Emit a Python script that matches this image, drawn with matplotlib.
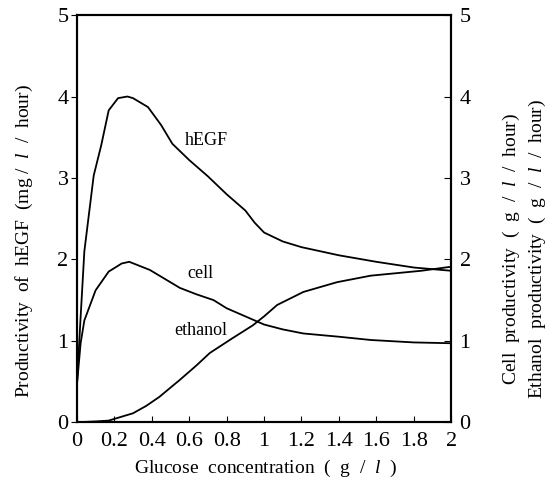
import matplotlib
matplotlib.use('Agg')
import matplotlib.pyplot as plt

plt.rcParams['font.family'] = ['Liberation Serif', 'DejaVu Serif']
plt.rcParams['mathtext.fontset'] = 'custom'
plt.rcParams['mathtext.rm'] = 'Liberation Serif'
plt.rcParams['mathtext.it'] = 'Liberation Serif:italic'

# hEGF productivity (mg/l/hour), left axis
hegf_x = [0, 0.02, 0.04, 0.09, 0.13, 0.17, 0.22, 0.27, 0.30, 0.38, 0.45, 0.51, 0.60,
          0.70, 0.80, 0.90, 0.95, 1.0, 1.1, 1.2, 1.4, 1.6, 1.8, 2.0]
hegf_y = [0.45, 1.29, 2.1, 3.03, 3.4, 3.83, 3.98, 4.0, 3.98, 3.87, 3.65, 3.42, 3.22,
          3.02, 2.8, 2.6, 2.45, 2.33, 2.22, 2.15, 2.05, 1.97, 1.9, 1.86]

# cell productivity (g/l/hour), right axis
cell_x = [0, 0.02, 0.04, 0.10, 0.17, 0.24, 0.28, 0.39, 0.47, 0.55, 0.64, 0.73, 0.80,
          0.90, 1.0, 1.1, 1.21, 1.4, 1.57, 1.8, 2.0]
cell_y = [0.45, 0.97, 1.25, 1.62, 1.85, 1.95, 1.97, 1.87, 1.76, 1.65, 1.57, 1.5, 1.4,
          1.3, 1.2, 1.14, 1.09, 1.05, 1.01, 0.98, 0.97]

# ethanol productivity (g/l/hour), right axis
eth_x = [0, 0.1, 0.17, 0.3, 0.37, 0.44, 0.55, 0.64, 0.71, 0.83, 0.94, 1.0, 1.07,
         1.21, 1.39, 1.57, 1.84, 2.0]
eth_y = [0, 0.01, 0.02, 0.11, 0.2, 0.31, 0.52, 0.7, 0.85, 1.03, 1.19, 1.3, 1.44,
         1.6, 1.72, 1.8, 1.86, 1.91]

xticks = [0, 0.2, 0.4, 0.6, 0.8, 1, 1.2, 1.4, 1.6, 1.8, 2]
xtick_labels = ['0', '0.2', '0.4', '0.6', '0.8', '1', '1.2', '1.4', '1.6', '1.8', '2']
yticks = [0, 1, 2, 3, 4, 5]

fig = plt.figure(figsize=(5.53, 4.87), dpi=100)
ax = fig.add_axes([0.139, 0.133, 0.677, 0.836])
ax2 = ax.twinx()

ax.plot(hegf_x, hegf_y, 'k', lw=1.3)
ax2.plot(cell_x, cell_y, 'k', lw=1.3)
ax2.plot(eth_x, eth_y, 'k', lw=1.3)

ax.set_xlim(0, 2)
ax.set_ylim(0, 5)
ax2.set_ylim(0, 5)
ax.set_xticks(xticks)
ax.set_xticklabels(xtick_labels)
ax.set_yticks(yticks)
ax2.set_yticks(yticks)

for a in (ax, ax2):
    for s in a.spines.values():
        s.set_linewidth(1.5)
ax.tick_params(axis='x', direction='in', length=4, labelsize=16, pad=7)
ax.tick_params(axis='y', direction='out', length=4, labelsize=16, pad=2)
ax2.tick_params(axis='y', direction='in', length=5, labelsize=16, pad=6)

ax.text(0.69, 3.46, 'hEGF', fontsize=13, ha='center', va='center')
ax.text(0.66, 1.83, 'cell', fontsize=13, ha='center', va='center')
ax.text(0.66, 1.13, 'ethanol', fontsize=13, ha='center', va='center')

ax.set_xlabel(r'Glucose  concentration  (  g  /  $\mathit{l}$  )', fontsize=14)
ax.xaxis.set_label_coords(0.505, -0.088)
ax.set_ylabel(r'Productivity  of  hEGF  (mg /  $\mathit{l}$  /  hour)', fontsize=14)
ax.yaxis.set_label_coords(-0.112, 0.445)
ax2.set_ylabel('Cell  productivity  (  g  /  $\\mathit{l}$  /  hour)\n'
               'Ethanol  productivity  (  g  /  $\\mathit{l}$  /  hour)',
               fontsize=14, rotation=90, va='center', linespacing=1.35)
ax2.yaxis.set_label_coords(1.195, 0.425)

fig.savefig('out.png', dpi=100)
